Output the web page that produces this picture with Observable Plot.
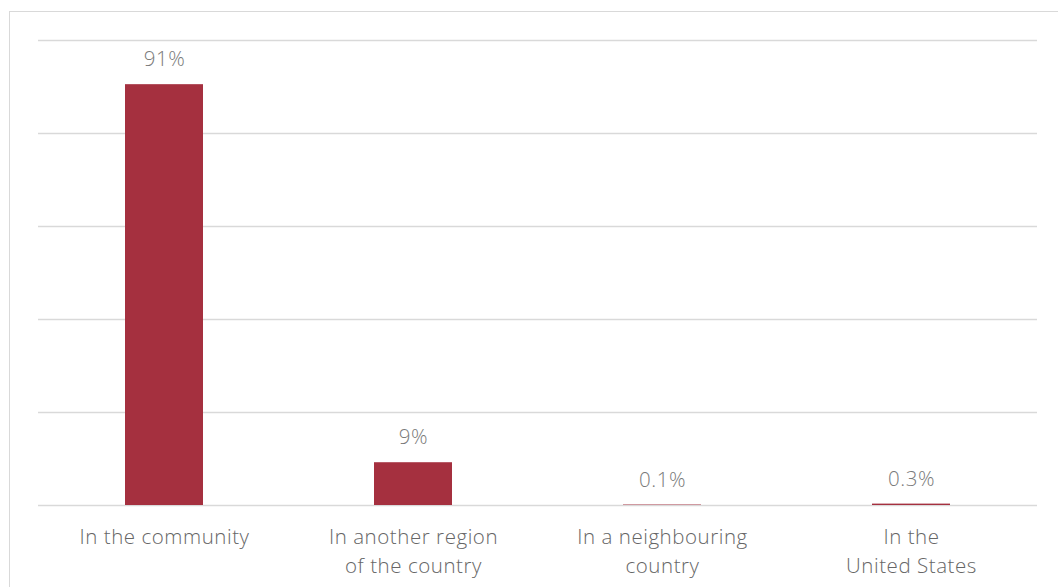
<!DOCTYPE html>
<html>
<head>
<meta charset="utf-8">
<script src="https://cdn.jsdelivr.net/npm/d3@7"></script>
<script src="https://cdn.jsdelivr.net/npm/@observablehq/plot@0.6"></script>
<style>
  html, body { margin: 0; padding: 0; background: #fff; overflow: hidden; }
  #frame { position: absolute; left: 9px; top: 11px; width: 1200px; height: 800px; border: 1.5px solid #d9d9d9; }
  #chart { position: absolute; left: 0; top: 0; }
  #chart svg text { letter-spacing: 0.55px; }
</style>
</head>
<body>
<div id="frame"></div>
<div id="chart"></div>
<script>
const categories = ["In the community", "In another region of the country", "In a neighbouring country", "In the United States"];
const tickLabels = ["In the community", "In another region\nof the country", "In a neighbouring\ncountry", "In the\nUnited States"];
const values = [90.5, 9.2, 0.1, 0.3];
const valueLabels = ["91%", "9%", "0.1%", "0.3%"];
const yTicks = [0, 20, 40, 60, 80, 100];

const data = categories.map((c, i) => ({cat: c, value: values[i], label: valueLabels[i]}));
const tickMap = new Map(categories.map((c, i) => [c, tickLabels[i]]));

const font = "'Open Sans', 'Segoe UI', sans-serif";

const chart = Plot.plot({
  width: 1058,
  height: 587,
  marginLeft: 38,
  marginRight: 21,
  marginTop: 40,
  marginBottom: 82,
  style: {fontFamily: font, fontWeight: 300, background: "transparent", color: "#6b6b6b"},
  x: {domain: categories, paddingInner: 0.688, paddingOuter: 0.344, label: null},
  y: {domain: [0, 100], label: null, axis: null},
  marks: [
    Plot.ruleY(yTicks, {stroke: "#d9d9d9", strokeWidth: 1.5}),
    Plot.barY(data, {x: "cat", y: "value", fill: "#a5303f"}),
    Plot.text(data, {x: "cat", y: "value", text: "label", dy: -25, fill: "#7a7a7a", fontSize: 20.5, fontWeight: 300}),
    Plot.axisX({tickSize: 0, tickPadding: 18, tickFormat: d => tickMap.get(d), fontSize: 20.5, lineHeight: 1.42, fill: "#666666", fontWeight: 300, textAnchor: "middle", lineAnchor: "top"}),
  ]
});
document.getElementById("chart").appendChild(chart);
</script>
</body>
</html>
